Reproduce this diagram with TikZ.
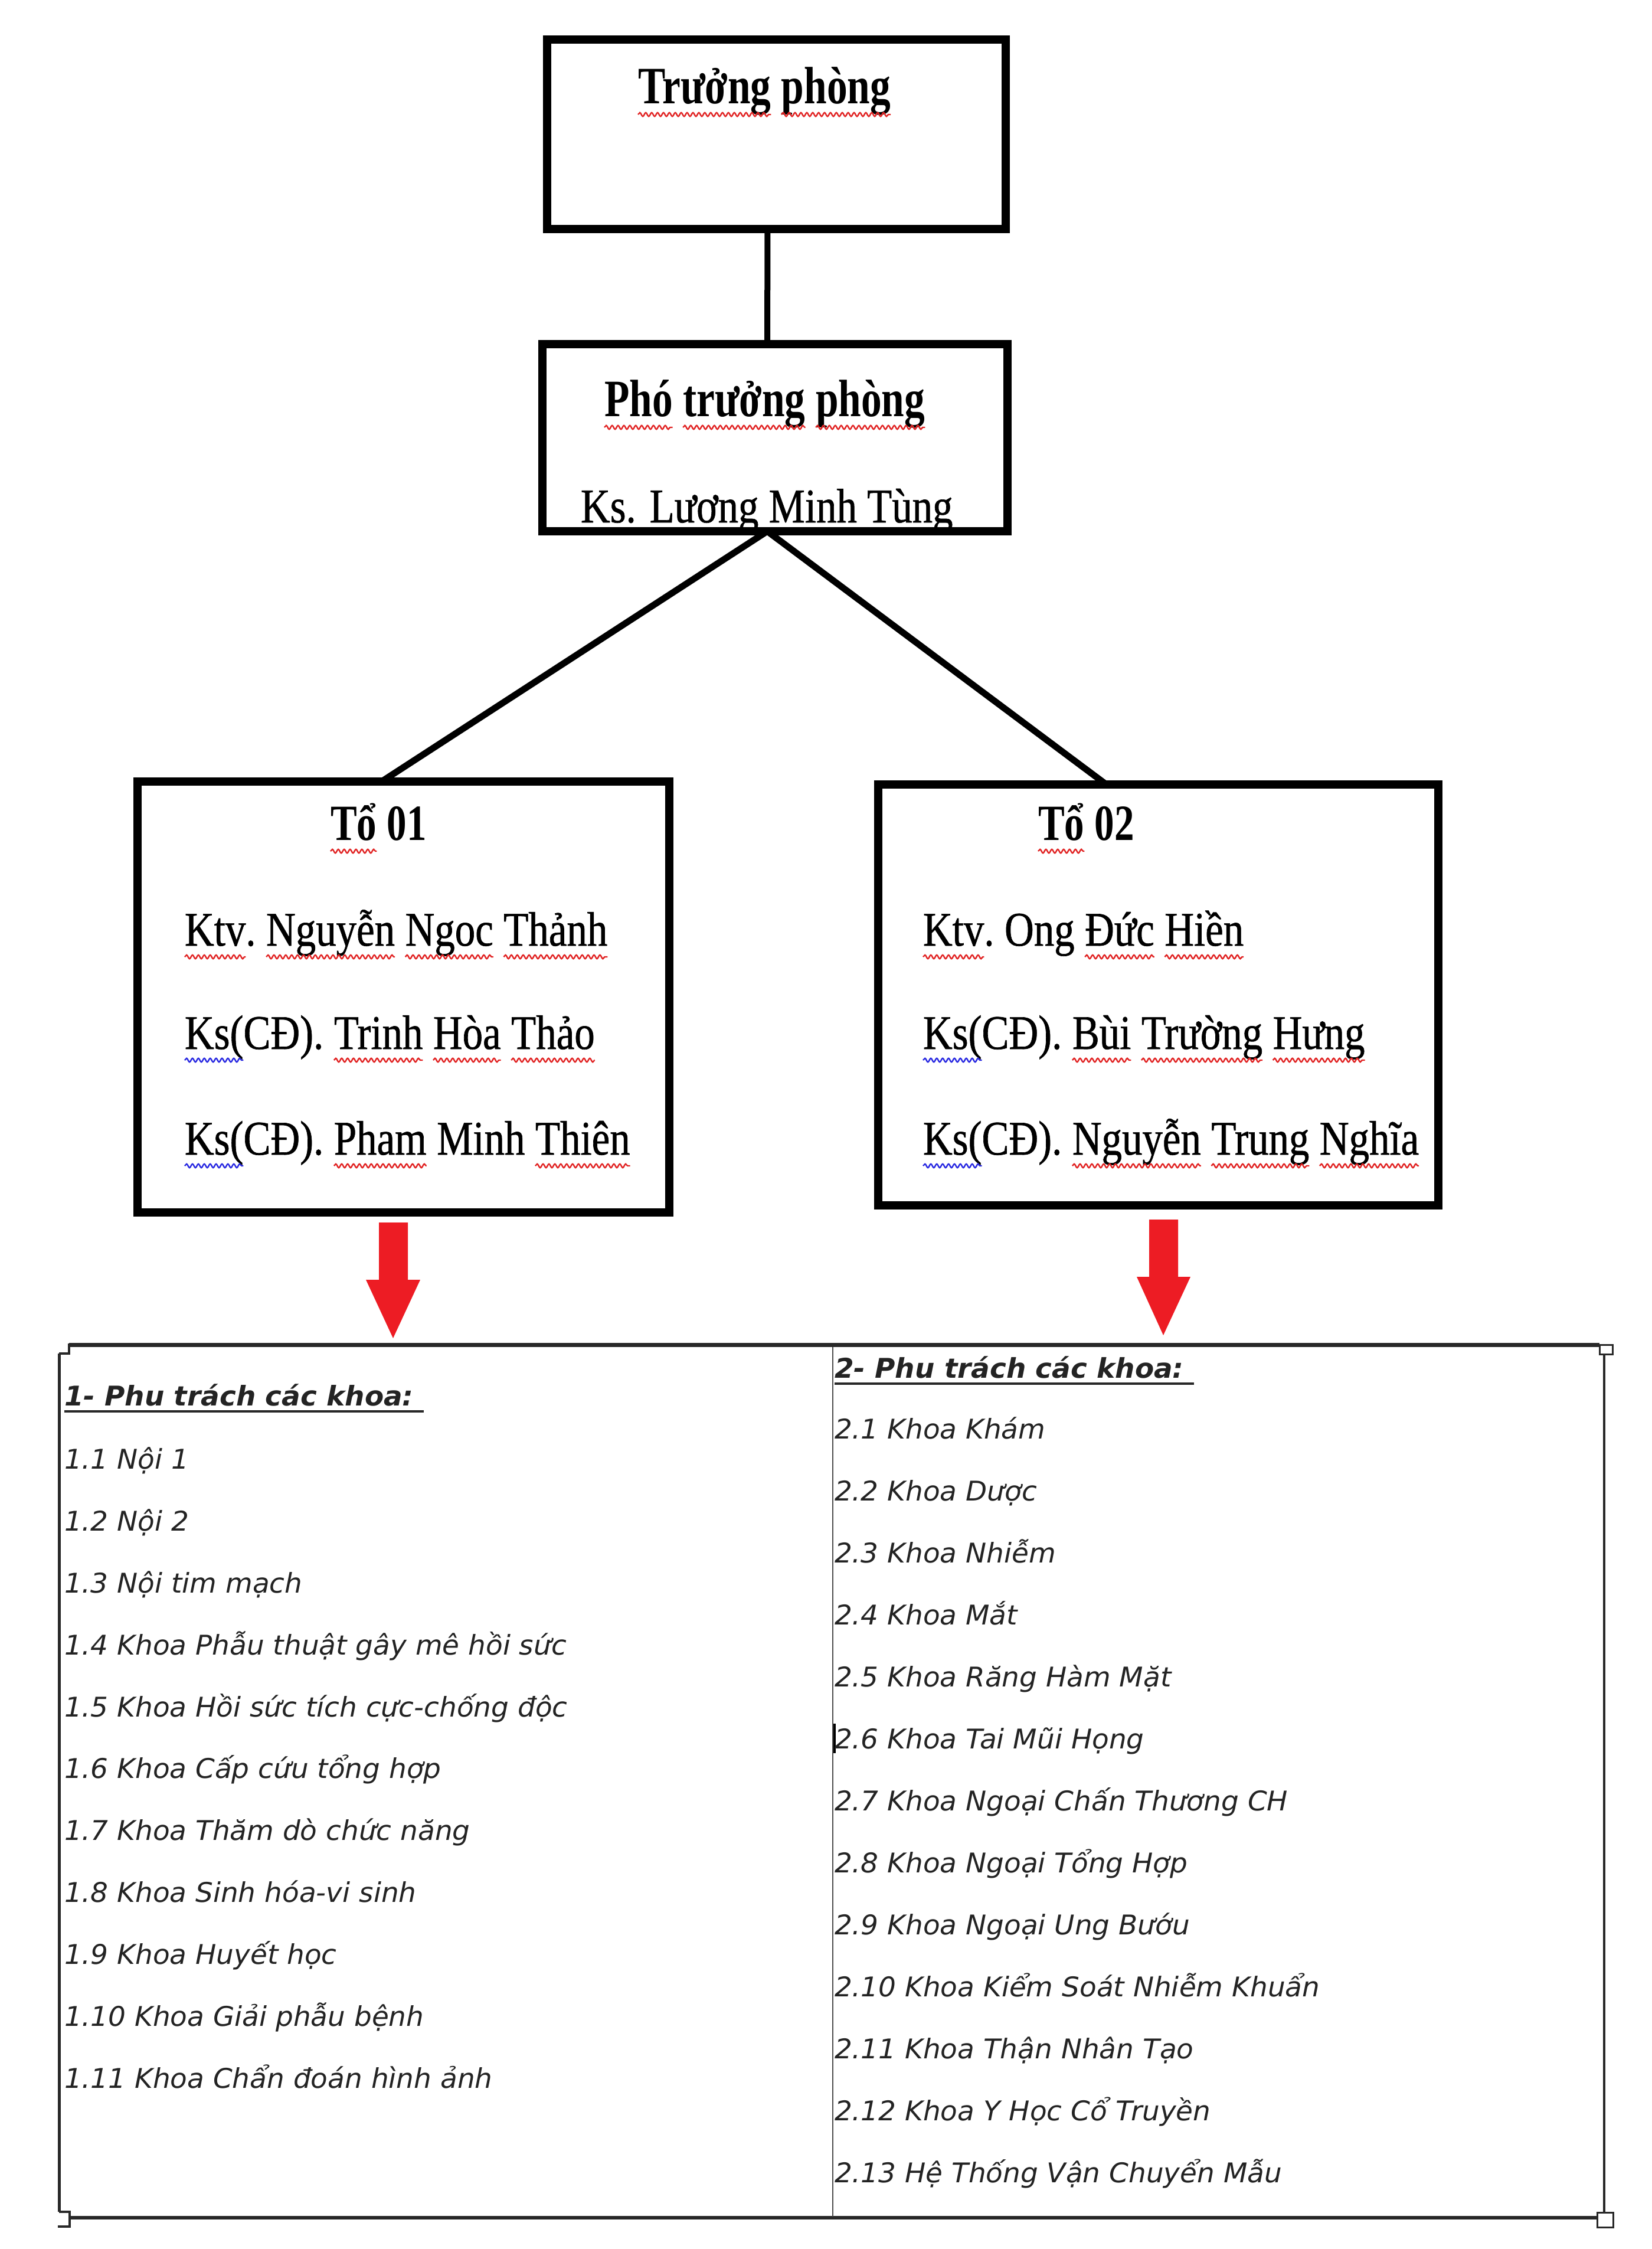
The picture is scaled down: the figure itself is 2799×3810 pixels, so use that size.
\documentclass[tikz,border=0pt]{standalone}
\usepackage{fontspec}
\usetikzlibrary{decorations.pathmorphing}
\newfontfamily\tnr[FakeStretch=0.84,FakeBold=0.8]{Liberation Serif}
\newfontfamily\tnrb[FakeStretch=0.78]{Liberation Serif}
\newfontfamily\vrd[FakeStretch=1.02]{DejaVu Sans}
\definecolor{wred}{RGB}{225,35,35}
\definecolor{wblue}{RGB}{40,40,225}
\definecolor{arrred}{RGB}{237,28,36}
\definecolor{tline}{RGB}{40,40,40}
\definecolor{listc}{RGB}{35,35,35}
\newcommand\sq[2]{\draw[squig,#2] ([yshift=-19pt]#1.base west) -- ([yshift=-19pt]#1.base east);}
\tikzset{
  orgbox/.style={draw=black, line width=14pt, inner sep=0pt, outer sep=0pt},
  conn/.style={draw=black, line width=11pt},
  wbase/.style={anchor=base west, inner sep=0pt, outer sep=0pt},
  boldt/.style={wbase, font=\tnrb\bfseries\fontsize{89}{100}\selectfont},
  bolds/.style={wbase, font=\tnrb\bfseries\fontsize{86}{100}\selectfont},
  regt/.style={wbase, font=\tnr\fontsize{82}{96}\selectfont},
  nextw/.style={at=(#1.base east), xshift=17.5pt},
  glued/.style={at=(#1.base east)},
  squig/.style={line width=2.4pt, decorate, decoration={snake, amplitude=3.2pt, segment length=10pt}},
  litem/.style={wbase, text=listc, font=\vrd\itshape\fontsize{46}{54}\selectfont},
  lhead/.style={wbase, text=listc, font=\vrd\bfseries\itshape\fontsize{46}{54}\selectfont},
  tbl/.style={draw=tline, line cap=butt},
  redarrow/.style={fill=arrred}
}
\begin{document}
\begin{tikzpicture}[x=1pt,y=-1pt]
\fill[white] (0,0) rectangle (2799,3810);
\useasboundingbox (0,0) rectangle (2799,3810);

% ---- Truong phong ----
\node[boldt] (t1a) at (1081,175) {Trưởng};
\node[boldt, nextw=t1a] (t1b) {phòng};
\sq{t1a}{wred}\sq{t1b}{wred}

% ---- Pho truong phong ----
\node[boldt] (t2a) at (1024,705) {Phó};
\node[boldt, nextw=t2a] (t2b) {trưởng};
\node[boldt, nextw=t2b] (t2c) {phòng};
\sq{t2a}{wred}\sq{t2b}{wred}\sq{t2c}{wred}
\node[regt] (t3) at (984,885) {Ks. Lương Minh Tùng};

% ---- To 01 ----
\node[bolds] (a0a) at (560,1423) {Tổ};
\node[bolds, nextw=a0a] (a0b) {01};
\sq{a0a}{wred}

\node[regt] (a1a) at (313,1602) {Ktv};
\node[regt, glued=a1a] (a1p) {.};
\node[regt, nextw=a1p] (a1b) {Nguyễn};
\node[regt, nextw=a1b] (a1c) {Ngoc};
\node[regt, nextw=a1c] (a1d) {Thảnh};
\sq{a1a}{wred}\sq{a1b}{wred}\sq{a1c}{wred}\sq{a1d}{wred}

\node[regt] (a2a) at (313,1777) {Ks(};
\node[regt, glued=a2a] (a2p) {CĐ).};
\node[regt, nextw=a2p] (a2b) {Trinh};
\node[regt, nextw=a2b] (a2c) {Hòa};
\node[regt, nextw=a2c] (a2d) {Thảo};
\sq{a2a}{wblue}\sq{a2b}{wred}\sq{a2c}{wred}\sq{a2d}{wred}

\node[regt] (a3a) at (313,1956) {Ks(};
\node[regt, glued=a3a] (a3p) {CĐ).};
\node[regt, nextw=a3p] (a3b) {Pham};
\node[regt, nextw=a3b] (a3c) {Minh};
\node[regt, nextw=a3c] (a3d) {Thiên};
\sq{a3a}{wblue}\sq{a3b}{wred}\sq{a3d}{wred}

% ---- To 02 ----
\node[bolds] (b0a) at (1759,1423) {Tổ};
\node[bolds, nextw=b0a] (b0b) {02};
\sq{b0a}{wred}

\node[regt] (b1a) at (1564,1602) {Ktv};
\node[regt, glued=b1a] (b1p) {.};
\node[regt, nextw=b1p] (b1b) {Ong};
\node[regt, nextw=b1b] (b1c) {Đức};
\node[regt, nextw=b1c] (b1d) {Hiền};
\sq{b1a}{wred}\sq{b1c}{wred}\sq{b1d}{wred}

\node[regt] (b2a) at (1564,1777) {Ks(};
\node[regt, glued=b2a] (b2p) {CĐ).};
\node[regt, nextw=b2p] (b2b) {Bùi};
\node[regt, nextw=b2b] (b2c) {Trường};
\node[regt, nextw=b2c] (b2d) {Hưng};
\sq{b2a}{wblue}\sq{b2b}{wred}\sq{b2c}{wred}\sq{b2d}{wred}

\node[regt] (b3a) at (1564,1956) {Ks(};
\node[regt, glued=b3a] (b3p) {CĐ).};
\node[regt, nextw=b3p] (b3b) {Nguyễn};
\node[regt, nextw=b3b] (b3c) {Trung};
\node[regt, nextw=b3c] (b3d) {Nghĩa};
\sq{b3a}{wblue}\sq{b3b}{wred}\sq{b3c}{wred}\sq{b3d}{wred}

% ---- boxes ----
\node[orgbox, minimum width=777pt, minimum height=321pt] (tp)  at (1315.5,227.5) {};
\node[orgbox, minimum width=788pt, minimum height=317pt] (ptp) at (1313,741.5) {};
\node[orgbox, minimum width=901pt, minimum height=730pt] (to1) at (683.5,1689) {};
\node[orgbox, minimum width=949pt, minimum height=713pt] (to2) at (1962.5,1685.5) {};

% ---- connectors ----
\draw[conn, line width=10pt] ([xshift=-15pt]tp.south) -- ([xshift=-13pt]ptp.north);
\draw[conn, line cap=round] ([xshift=-13pt]ptp.south) -- ([xshift=-37pt]to1.north);
\draw[conn, line cap=round] ([xshift=-13pt]ptp.south) -- ([xshift=-88pt]to2.north);

% ---- red block arrows ----
\fill[redarrow] (642,2071) -- (691,2071) -- (691,2168) -- (712,2168) -- (666,2267) -- (620,2168) -- (642,2168) -- cycle;
\fill[redarrow] (1947,2066) -- (1996,2066) -- (1996,2163) -- (2017,2163) -- (1971,2262) -- (1926,2163) -- (1947,2163) -- cycle;

% ---- table ----
\draw[tbl, line width=7pt] (117,2278) -- (2710,2278);
\draw[tbl, line width=4pt] (117,2276) -- (117,2293) -- (100,2293);
\draw[tbl, line width=5pt] (100,2293) -- (100,3747);
\draw[tbl, line width=4pt] (100,3747) -- (118,3747) -- (118,3772) -- (98,3772);
\draw[tbl, line width=6pt] (118,3757) -- (2706,3757);
\draw[tbl, line width=4pt] (2718,2294) -- (2718,3748);
\draw[tbl, line width=3pt, fill=white] (2710,2278) rectangle (2732,2294);
\draw[tbl, line width=3pt, fill=white] (2706,3748) rectangle (2733,3773);
\draw[draw=black!70, line width=2.5pt] (1411,2282) -- (1411,3755);
\draw[draw=black, line width=4pt] (1414,2920) -- (1414,2970);

% ---- left column ----
\node[lhead] (lh) at (109,2381) {1- Phu trách các khoa:};
\draw[tbl, line width=3.5pt] ([yshift=-10pt]lh.base west) -- ([yshift=-10pt,xshift=17pt]lh.base east);
\foreach \txt [count=\i] in {1.1 Nội 1, 1.2 Nội 2, 1.3 Nội tim mạch,
  1.4 Khoa Phẫu thuật gây mê hồi sức, 1.5 Khoa Hồi sức tích cực-chống độc,
  1.6 Khoa Cấp cứu tổng hợp, 1.7 Khoa Thăm dò chức năng,
  1.8 Khoa Sinh hóa-vi sinh, 1.9 Khoa Huyết học,
  1.10 Khoa Giải phẫu bệnh, 1.11 Khoa Chẩn đoán hình ảnh}
  \node[litem] (L\i) at (109,2383.5+104.9*\i) {\txt};

% ---- right column ----
\node[lhead] (rh) at (1414,2334) {2- Phu trách các khoa:};
\draw[tbl, line width=3.5pt] ([yshift=-10pt]rh.base west) -- ([yshift=-10pt,xshift=17pt]rh.base east);
\foreach \txt [count=\i] in {2.1 Khoa Khám, 2.2 Khoa Dược, 2.3 Khoa Nhiễm,
  2.4 Khoa Mắt, 2.5 Khoa Răng Hàm Mặt, 2.6 Khoa Tai Mũi Họng,
  2.7 Khoa Ngoại Chấn Thương CH, 2.8 Khoa Ngoại Tổng Hợp,
  2.9 Khoa Ngoại Ung Bướu, 2.10 Khoa Kiểm Soát Nhiễm Khuẩn,
  2.11 Khoa Thận Nhân Tạo, 2.12 Khoa Y Học Cổ Truyền,
  2.13 Hệ Thống Vận Chuyển Mẫu}
  \node[litem] (R\i) at (1414,2332+105*\i) {\txt};
\end{tikzpicture}
\end{document}
